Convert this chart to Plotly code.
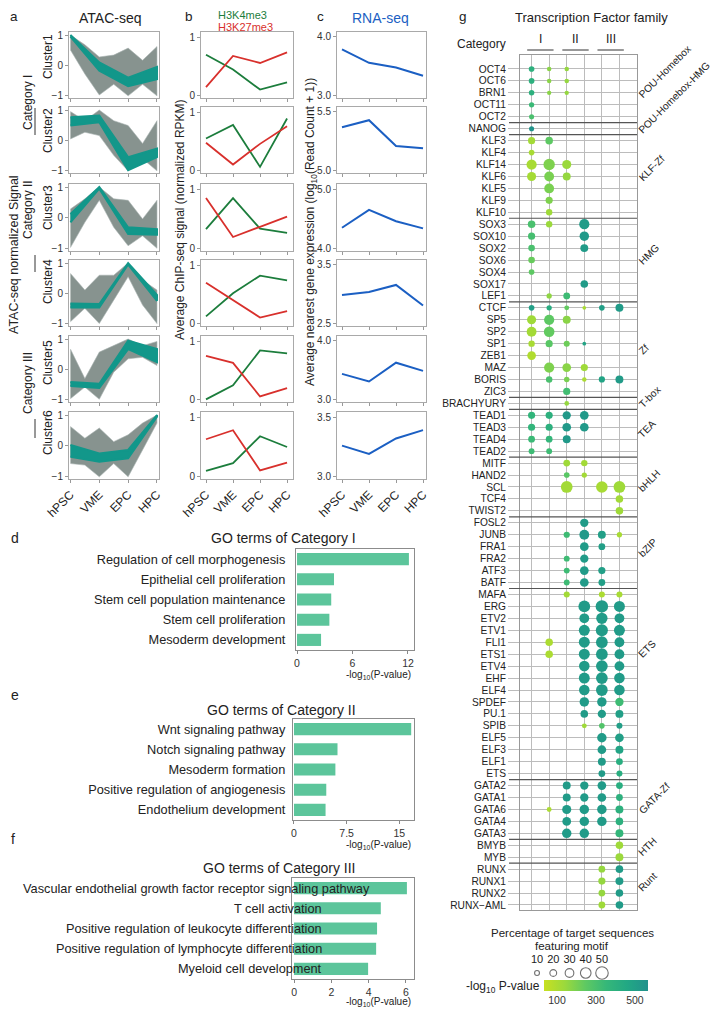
import plotly.graph_objects as go

# target picture is 722x1015; the page body keeps its default 8px margin,
# so the figure itself is 706x999 and sits at (8, 8) inside the window
W, H = 722, 1015
OX, OY = 8, 8
FW, FH = W - 2 * OX, H - 2 * OY
FONT = "Liberation Sans, Arial, Helvetica, sans-serif"
INK = "#222222"
N = None

# ============ DATA: panels a-c ================
stages = ["hPSC", "VME", "EPC", "HPC"]
stage_x = [0, 1, 2, 3]
env_x = [0, 0.5, 1, 1.5, 2, 2.5, 3]
clusters = ["Cluster1", "Cluster2", "Cluster3", "Cluster4", "Cluster5", "Cluster6"]
categories = ["Category I", "Category II", "Category III"]

# outer envelope of the per-peak ATAC profiles
atac_upper = [
    [1.0, 0.68, 0.28, 0.34, 0.57, 0.17, 0.62],
    [0.95, 0.65, 1.0, 0.65, 0.49, -0.1, 0.65],
    [0.29, 0.62, 1.0, 0.62, 0.57, -0.03, 0.57],
    [0.66, 0.11, 0.6, 0.6, 1.0, 0.44, 0.11],
    [0.67, -0.3, 0.57, 0.78, 1.0, 0.78, 0.92],
    [0.63, 0.25, 0.58, 0.14, 0.36, 0.74, 1.0],
]
atac_lower = [
    [0.51, -0.28, -0.97, -0.62, -1.0, -0.62, -1.0],
    [0.05, 0.27, 0.16, -0.49, -1.0, -0.6, -1.0],
    [-0.96, -0.14, 0.57, -0.3, -0.9, -0.58, -0.98],
    [-0.93, -0.49, -0.99, -0.22, 0.55, -0.38, -0.99],
    [-0.96, -0.58, -0.98, -0.09, 0.35, 0.4, 0.13],
    [-0.57, -0.62, -1.0, -0.57, -1.0, -0.13, 0.74],
]
# core (teal) band
atac_core_hi = [
    [1.0, 0.1, -0.4, -0.05],
    [0.76, 0.82, -0.55, -0.27],
    [0.13, 1.0, -0.3, -0.36],
    [-0.33, -0.35, 1.0, -0.05],
    [-0.41, -0.47, 0.95, 0.67],
    [0.03, -0.24, -0.13, 1.0],
]
atac_core_lo = [
    [0.95, -0.17, -0.68, -0.45],
    [0.49, 0.6, -0.98, -0.55],
    [-0.14, 0.95, -0.52, -0.54],
    [-0.46, -0.46, 0.95, -0.24],
    [-0.54, -0.61, 0.67, 0.24],
    [-0.35, -0.51, -0.4, 0.95],
]

h3k4me3 = [
    [0.70, 0.45, 0.11, 0.23],
    [0.55, 0.78, 0.07, 0.89],
    [0.33, 0.85, 0.34, 0.27],
    [0.13, 0.52, 0.82, 0.74],
    [0.01, 0.25, 0.84, 0.79],
    [0.10, 0.23, 0.68, 0.50],
]
h3k27me3 = [
    [0.15, 0.68, 0.56, 0.74],
    [0.48, 0.11, 0.46, 0.76],
    [0.85, 0.20, 0.37, 0.54],
    [0.70, 0.40, 0.11, 0.22],
    [0.75, 0.63, 0.06, 0.20],
    [0.63, 0.78, 0.11, 0.24],
]

rna_expr = [
    [3.79, 3.56, 3.48, 3.34],
    [5.37, 5.43, 5.21, 5.19],
    [4.35, 4.65, 4.46, 4.34],
    [2.99, 3.04, 3.16, 2.81],
    [3.44, 3.31, 3.63, 3.49],
    [3.26, 3.19, 3.32, 3.39],
]
rna_ticks = [(3.0, 4.0), (5.0, 5.5), (4.0, 5.0), (2.5, 3.5), (3.0, 4.0), (3.0, 3.5)]

# ============ DATA: GO terms ================
go_d_terms = ["Regulation of cell morphogenesis", "Epithelial cell proliferation",
              "Stem cell population maintenance", "Stem cell proliferation", "Mesoderm development"]
go_d_vals = [12.1, 4.0, 3.7, 3.5, 2.6]
go_e_terms = ["Wnt signaling pathway", "Notch signaling pathway", "Mesoderm formation",
              "Positive regulation of angiogenesis", "Endothelium development"]
go_e_vals = [16.7, 6.2, 5.9, 4.6, 4.5]
go_f_terms = ["Vascular endothelial growth factor receptor signaling pathway", "T cell activation",
              "Positive regulation of leukocyte differentiation",
              "Positive regulation of lymphocyte differentiation", "Myeloid cell development"]
go_f_vals = [6.05, 4.65, 4.45, 4.4, 3.97]

# ============ DATA: motif dot plot ================
tf_names = ["OCT4", "OCT6", "BRN1", "OCT11", "OCT2", "NANOG", "KLF3", "KLF4", "KLF14", "KLF6",
            "KLF5", "KLF9", "KLF10", "SOX3", "SOX10", "SOX2", "SOX6", "SOX4", "SOX17", "LEF1",
            "CTCF", "SP5", "SP2", "SP1", "ZEB1", "MAZ", "BORIS", "ZIC3", "BRACHYURY", "TEAD1",
            "TEAD3", "TEAD4", "TEAD2", "MITF", "HAND2", "SCL", "TCF4", "TWIST2", "FOSL2", "JUNB",
            "FRA1", "FRA2", "ATF3", "BATF", "MAFA", "ERG", "ETV2", "ETV1", "FLI1", "ETS1",
            "ETV4", "EHF", "ELF4", "SPDEF", "PU.1", "SPIB", "ELF5", "ELF3", "ELF1", "ETS",
            "GATA2", "GATA1", "GATA6", "GATA4", "GATA3", "BMYB", "MYB", "RUNX", "RUNX1", "RUNX2",
            "RUNX\u2212AML"]
families = ["POU-Homebox", "POU-Homebox-HMG", "KLF-Zf", "HMG", "Zf", "T-box", "TEA", "bHLH",
            "bZIP", "ETS", "GATA-Zf", "HTH", "Runt"]
family_sizes = [5, 1, 7, 7, 8, 1, 4, 5, 6, 16, 5, 2, 4]
family_label_rows = [2, 5, 9, 16, 23.5, 28, 30.5, 35, 40.5, 48.9, 62, 65.5, 68.5]

motif_pct = [
    [14, 8, 8, N, N, N], [14, 8, 8, N, N, N], [13, 7, 7, N, N, N], [12, N, N, N, N, N],
    [11, N, N, N, N, N], [11, N, N, N, N, N], [22, 24, N, N, N, N], [14, N, N, N, N, N],
    [38, 44, 32, N, N, N], [32, 36, 26, N, N, N], [N, 36, N, N, N, N], [N, 22, N, N, N, N],
    [N, 18, N, N, N, N], [24, 18, N, 38, N, N], [22, N, N, 34, N, N], [19, N, N, 26, N, N],
    [19, N, N, N, N, N], [14, N, N, N, N, N], [N, N, N, 24, N, N], [N, 12, 20, N, N, N],
    [14, 12, 10, 4, 14, 26], [32, 38, 26, N, N, N], [36, 40, N, N, N, N], [18, 22, 16, 4, N, N],
    [30, N, N, N, N, N], [N, 38, 30, 22, N, N], [N, 18, 13, 8, 17, 26], [N, N, 22, N, N, N],
    [N, N, 9, N, N, N], [22, 22, 28, 30, N, N], [22, 22, 30, 30, N, N], [20, 20, 26, N, N, N],
    [15, 15, N, N, N, N], [N, N, 20, 18, N, N], [N, N, 14, 12, N, N], [N, N, 46, N, 45, 46],
    [N, N, N, N, N, 24], [N, N, N, N, N, 24], [N, N, N, 28, N, N], [N, N, 17, 36, 26, 12],
    [N, N, N, 30, 20, N], [N, N, 15, 28, N, N], [N, N, 15, 30, 22, N], [N, N, 15, 30, 20, N],
    [N, N, 16, N, 16, 16], [N, N, N, 46, 50, 42], [N, N, N, 36, 44, 36], [N, N, N, 42, 48, 42],
    [N, 24, N, 42, 46, 36], [N, 24, N, 42, 46, 36], [N, N, N, 40, 46, 36], [N, N, N, 42, 46, 40],
    [N, N, N, 40, 46, 40], [N, N, N, 34, 34, 28], [N, N, N, 24, 28, 26], [N, N, N, 10, 14, 16],
    [N, N, N, N, 34, 30], [N, N, N, N, 30, 26], [N, N, N, N, 26, 20], [N, N, N, N, 20, 16],
    [N, N, 26, 28, 30, 20], [N, N, 26, 28, 30, 20], [N, 10, 32, 34, 34, 26], [N, N, 30, 34, 34, 24],
    [N, N, 34, 34, N, 26], [N, N, N, N, N, 24], [N, N, N, N, N, 26], [N, N, N, N, 20, 24],
    [N, N, N, N, 22, 26], [N, N, N, N, 20, 24], [N, N, N, N, 20, 24],
]
motif_logp = [
    [400, 170, 150, N, N, N], [400, 170, 150, N, N, N], [400, 170, 150, N, N, N], [340, N, N, N, N, N],
    [300, N, N, N, N, N], [560, N, N, N, N, N], [120, 250, N, N, N, N], [110, N, N, N, N, N],
    [110, 190, 140, N, N, N], [115, 200, 150, N, N, N], [N, 200, N, N, N, N], [N, 190, N, N, N, N],
    [N, 130, N, N, N, N], [300, 140, N, 520, N, N], [310, N, N, 530, N, N], [300, N, N, 520, N, N],
    [230, N, N, N, N, N], [250, N, N, N, N, N], [N, N, N, 520, N, N], [N, 160, 330, N, N, N],
    [500, 430, 240, 110, 500, 520], [130, 250, 170, N, N, N], [120, 240, N, N, N, N], [110, 260, 220, 480, N, N],
    [90, N, N, N, N, N], [N, 190, 170, 130, N, N], [N, 300, 200, 100, 480, 520], [N, N, 320, N, N, N],
    [N, N, 150, N, N, N], [370, 400, 530, 530, N, N], [370, 400, 530, 530, N, N], [340, 360, 530, N, N, N],
    [330, 330, N, N, N, N], [N, N, 130, 120, N, N], [N, N, 260, 120, N, N], [N, N, 120, N, 110, 130],
    [N, N, N, N, N, 120], [N, N, N, N, N, 130], [N, N, N, 520, N, N], [N, N, 330, 530, 500, 110],
    [N, N, N, 520, 500, N], [N, N, 330, 520, N, N], [N, N, 330, 520, 500, N], [N, N, 330, 520, 500, N],
    [N, N, 120, N, 100, 110], [N, N, N, 520, 520, 520], [N, N, N, 520, 520, 520], [N, N, N, 520, 520, 520],
    [N, 100, N, 520, 520, 520], [N, 100, N, 520, 520, 520], [N, N, N, 520, 520, 520], [N, N, N, 520, 520, 520],
    [N, N, N, 520, 520, 520], [N, N, N, 520, 520, 330], [N, N, N, 520, 520, 500], [N, N, N, 130, 280, 500],
    [N, N, N, N, 520, 500], [N, N, N, N, 520, 480], [N, N, N, N, 520, 420], [N, N, N, N, 520, 420],
    [N, N, 520, 520, 520, 420], [N, N, 520, 520, 520, 400], [N, 100, 520, 520, 520, 400], [N, N, 520, 520, 520, 400],
    [N, N, 520, 520, N, 360], [N, N, N, N, N, 130], [N, N, N, N, N, 140], [N, N, N, N, 150, 520],
    [N, N, N, N, 150, 520], [N, N, N, N, 150, 520], [N, N, N, N, 130, 520],
]
legend_pct = [10, 20, 30, 40, 50]
pval_ticks = [100, 300, 500]

motif_scale = [[0.0, "#c8e020"], [0.2, "#9bd93c"], [0.4, "#5ec962"],
               [0.6, "#35b779"], [0.8, "#22a884"], [1.0, "#21918c"]]


def dot_size(p):
    return 3 + 0.19 * p


def px(x):
    return (x - OX) / FW


def py(y):
    return 1 - (y - OY) / FH


fig = go.Figure()
n_axes = 0


def add_axes(x0, x1, y0, y1, xa, ya):
    global n_axes
    n_axes += 1
    s = "" if n_axes == 1 else str(n_axes)
    xa = dict(xa, domain=[px(x0), px(x1)], anchor="y" + s, automargin=False)
    ya = dict(ya, domain=[py(y1), py(y0)], anchor="x" + s, automargin=False)
    fig.update_layout({"xaxis" + s: xa, "yaxis" + s: ya})
    return "x" + s, "y" + s


def note(text, x, y, size=12, color=INK, angle=0, xanchor="center", yanchor="middle", **kw):
    fig.add_annotation(text=text, x=px(x), y=py(y), xref="paper", yref="paper", showarrow=False,
                       textangle=angle, xanchor=xanchor, yanchor=yanchor,
                       font=dict(size=size, color=color, family=FONT), **kw)


frame = dict(showline=True, mirror=True, linecolor="#a9a9a9", linewidth=1, showgrid=False,
             zeroline=False, ticks="outside", ticklen=3, tickcolor="#999999",
             tickfont=dict(size=10, color="#333333"))

row_top = [32, 107, 184, 260, 336, 412]
row_bot = [98, 173, 251, 326, 402, 479]

# ============ a: ATAC-seq ================
for i in range(6):
    xa = dict(frame, range=[-0.05, 3.07], tickvals=stage_x, ticktext=stages,
              showticklabels=(i == 5), tickangle=-45, tickfont=dict(size=12, color=INK))
    ya = dict(frame, range=[-1.07, 1.1], tickvals=[-1, 0, 1])
    xr, yr = add_axes(69, 159, row_top[i], row_bot[i], xa, ya)
    fig.add_trace(go.Scatter(x=env_x + env_x[::-1], y=atac_upper[i] + atac_lower[i][::-1],
                             fill="toself", fillcolor="#87938f", mode="lines",
                             line=dict(width=0.6, color="#a9b3b1"), xaxis=xr, yaxis=yr))
    fig.add_trace(go.Scatter(x=stage_x + stage_x[::-1], y=atac_core_hi[i] + atac_core_lo[i][::-1],
                             fill="toself", fillcolor="#12978a", mode="lines",
                             line=dict(width=2, color="#12978a"), xaxis=xr, yaxis=yr))

# ============ b: histone ChIP-seq ================
for i in range(6):
    xa = dict(frame, range=[-0.185, 3.22], tickvals=stage_x, ticktext=stages,
              showticklabels=(i == 5), tickangle=-45, tickfont=dict(size=12, color=INK))
    ya = dict(frame, range=[-0.034, 1.085], tickvals=[0, 1])
    xr, yr = add_axes(201, 293, row_top[i], row_bot[i], xa, ya)
    fig.add_trace(go.Scatter(x=stage_x, y=h3k4me3[i], mode="lines",
                             line=dict(color="#1c7d3c", width=1.8), xaxis=xr, yaxis=yr))
    fig.add_trace(go.Scatter(x=stage_x, y=h3k27me3[i], mode="lines",
                             line=dict(color="#d8302c", width=1.8), xaxis=xr, yaxis=yr))

# ============ c: RNA-seq ================
for i in range(6):
    lo, hi = rna_ticks[i]
    span = hi - lo
    xa = dict(frame, range=[-0.185, 3.11], tickvals=stage_x, ticktext=stages,
              showticklabels=(i == 5), tickangle=-45, tickfont=dict(size=12, color=INK))
    ya = dict(frame, range=[lo - 0.04 * span, hi + 0.085 * span], tickvals=[lo, hi],
              ticktext=[f"{lo:.1f}", f"{hi:.1f}"])
    xr, yr = add_axes(337, 426, row_top[i], row_bot[i], xa, ya)
    fig.add_trace(go.Scatter(x=stage_x, y=rna_expr[i], mode="lines",
                             line=dict(color="#1b5fc3", width=2), xaxis=xr, yaxis=yr))

# ============ d/e/f: GO terms ================
go_frame = dict(showline=True, mirror=True, linecolor="#8c8c8c", linewidth=1.3, showgrid=False,
                zeroline=False)
go_panels = [
    (go_d_terms, go_d_vals, [0, 6, 12], [-0.11, 12.65], (296, 414, 549, 650), 7),
    (go_e_terms, go_e_vals, [0, 7.5, 15], [-0.14, 17.1], (293, 414, 719, 820), 4),
    (go_f_terms, go_f_vals, [0, 2, 4, 6], [-0.11, 6.43], (292, 414, 878, 979), None),
]
go_axes = []
for terms, vals, ticks, rng, (x0, x1, y0, y1), gap in go_panels:
    xa = dict(go_frame, range=rng, tickvals=ticks, ticks="outside", ticklen=3, tickcolor="#888",
              tickfont=dict(size=10.5, color="#333"))
    ya = dict(go_frame, categoryorder="array", categoryarray=terms, autorange="reversed",
              ticks="outside", ticklen=gap or 1, tickcolor="rgba(0,0,0,0)",
              showticklabels=gap is not None, tickfont=dict(size=12.75, color=INK))
    xr, yr = add_axes(x0, x1, y0, y1, xa, ya)
    go_axes.append((xr, yr))
    fig.add_trace(go.Bar(x=vals, y=terms, orientation="h", width=0.6,
                         marker=dict(color="#5cc59b", line=dict(width=0)), xaxis=xr, yaxis=yr))

# f labels overlap the bars in the original, so they sit as free text
f_yref = go_axes[2][1]
for k, term in enumerate(go_f_terms):
    fig.add_annotation(text=term, x=px(372 if k == 0 else 324), xref="paper", y=term, yref=f_yref,
                       xanchor="right", showarrow=False, font=dict(size=12.75, color=INK, family=FONT))

# ============ g: motif enrichment ================
dx, dy, ds, dc = [], [], [], []
for i, (prow, lrow) in enumerate(zip(motif_pct, motif_logp)):
    for j, (p, l) in enumerate(zip(prow, lrow)):
        if p is None:
            continue
        dx.append(j + 1)
        dy.append(i)
        ds.append(dot_size(p))
        dc.append(l)

xa = dict(range=[0.34, 7.0], tickvals=[1, 2, 3, 4, 5, 6], showticklabels=False, ticks="",
          showgrid=True, gridcolor="#bcbcbc", gridwidth=1, zeroline=False,
          showline=True, mirror=True, linecolor="#999999", linewidth=1)
ya = dict(range=[70.42, -1.17], tickvals=list(range(len(tf_names))), ticktext=tf_names,
          ticks="outside", ticklen=11, tickcolor="#bcbcbc", showgrid=True, gridcolor="#bcbcbc",
          gridwidth=1, zeroline=False, showline=True, mirror=True, linecolor="#999999",
          linewidth=1, tickfont=dict(size=10.2, color=INK))
gx, gy = add_axes(520, 637, 55, 910, xa, ya)
fig.add_trace(go.Scatter(
    x=dx, y=dy, mode="markers", xaxis=gx, yaxis=gy,
    marker=dict(size=ds, color=dc, colorscale=motif_scale, cmin=33, cmax=567, line=dict(width=0),
                opacity=1, showscale=True,
                colorbar=dict(orientation="h", x=px(544), xanchor="left", y=py(980), yanchor="top",
                              len=104 / FW, lenmode="fraction", thickness=11, xpad=0, ypad=0,
                              tickvals=pval_ticks, ticks="", outlinewidth=0,
                              tickfont=dict(size=10.5, color="#333"))),
))

# family separators
start = 0
for size in family_sizes[:-1]:
    start += size
    fig.add_shape(type="line", xref="paper", yref=gy, x0=px(509), x1=px(637),
                  y0=start - 0.5, y1=start - 0.5, line=dict(color="#555555", width=1.2))

for fam, row in zip(families, family_label_rows):
    fig.add_annotation(text=fam, x=px(635), xref="paper", y=row, yref=gy, xanchor="left",
                       yanchor="bottom", yshift=-8, textangle=-45, showarrow=False, borderpad=0,
                       font=dict(size=10.2, color=INK, family=FONT))

# category header
for c, txt in zip([1.5, 3.5, 5.5], ["I", "II", "III"]):
    fig.add_annotation(text=txt, x=c, xref=gx, y=py(48), yref="paper", yanchor="bottom",
                       showarrow=False, font=dict(size=12, color=INK, family=FONT))
    fig.add_shape(type="line", xref=gx, yref="paper", x0=c - 0.75, x1=c + 0.75,
                  y0=py(50), y1=py(50), line=dict(color="#333333", width=1))
note("Category", 508, 44, size=12, xanchor="right")

# size legend
xa = dict(range=[5, 55], side="top", tickvals=legend_pct, ticks="", showline=False,
          showgrid=False, zeroline=False, tickfont=dict(size=11, color=INK))
ya = dict(range=[-1, 1], visible=False)
lx, ly = add_axes(528.9, 610.1, 966, 980, xa, ya)
fig.add_trace(go.Scatter(x=legend_pct, y=[0] * len(legend_pct), mode="markers", xaxis=lx, yaxis=ly,
                         marker=dict(symbol="circle-open", size=[dot_size(p) for p in legend_pct],
                                     color="#333333", line=dict(width=1.1))))
note("Percentage of target sequences", 572, 933, size=11.5)
note("featuring motif", 572, 946, size=11.5)
note("-log<sub>10</sub> P-value", 542, 987, size=12, xanchor="right")

# ============ TEXT ================
# panel letters hang from the top edge of the figure
for letter, x in zip("abcg", [9, 184, 316, 458]):
    note(letter, x, OY, size=13.5, xanchor="left", yanchor="top", borderpad=0)
note("d", 9, 538, size=14, xanchor="left")
note("e", 9, 695, size=14, xanchor="left")
note("f", 9, 839, size=14, xanchor="left")

note("ATAC-seq", 110, 18, size=14)
note("H3K4me3", 217, OY, size=11, color="#1c7d3c", xanchor="left", yanchor="top", borderpad=0)
note("H3K27me3", 217, 27.2, size=11, color="#d8302c", xanchor="left", borderpad=0)
note("RNA-seq", 380, 18, size=14, color="#1b5fc3")
note("Transcription Factor family", 591, 17, size=13)

note("ATAC-seq normalized Signal", 14, 255, size=12.5, angle=-90)
note("Average ChIP-seq signal (normalized RPKM)", 180, 220, size=12, angle=-90)
note("Average nearest gene expression (log<sub>10</sub>(Read Count + 1))", 311, 232, size=12, angle=-90)

for name, yc in zip(clusters, [57, 131, 208, 282, 363, 433]):
    note(name, 48, yc, size=12, angle=-90)
for name, yc in zip(categories, [103, 210, 383]):
    note(name, 28, yc, size=12, angle=-90)
for y0, y1 in [(108, 135), (255, 272), (419, 438)]:
    fig.add_shape(type="line", xref="paper", yref="paper", x0=px(35), x1=px(35), y0=py(y0), y1=py(y1),
                  line=dict(color="#333333", width=1))

for title, yc in zip(["GO terms of Category I", "GO terms of Category II", "GO terms of Category III"],
                     [538, 710, 868]):
    note(title, 358, yc, size=14, xanchor="right")
for yc in [675, 845, 1002]:
    note("-log<sub>10</sub>(P-value)", 413, yc, size=10, xanchor="right")

fig.update_layout(
    width=FW, height=FH, margin=dict(l=0, r=0, t=0, b=0),
    paper_bgcolor="white", plot_bgcolor="white", showlegend=False,
    font=dict(family=FONT, color=INK), bargap=0.4,
)
fig.write_html("out.html", config={"displayModeBar": False})
